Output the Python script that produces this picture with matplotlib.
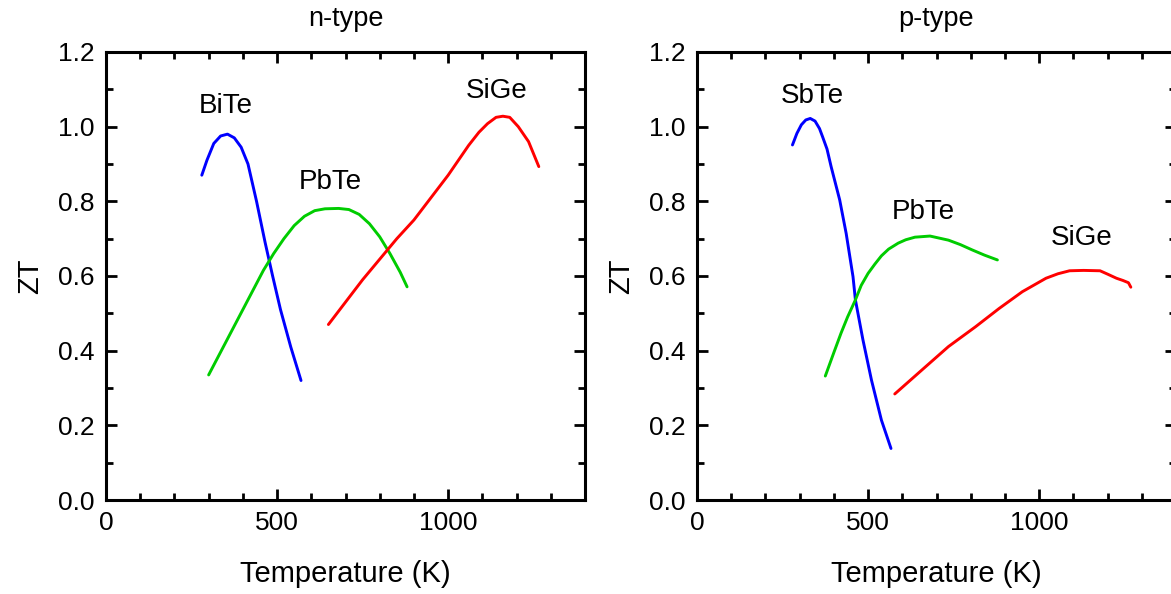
import matplotlib
matplotlib.use("Agg")
import matplotlib.pyplot as plt
from matplotlib.ticker import MultipleLocator, FormatStrFormatter

plt.rcParams['font.family'] = ['Liberation Sans', 'DejaVu Sans']

# n-type materials: temperature (K) and ZT
bite_t = [280, 295, 315, 335, 355, 375, 395, 415, 440, 465, 487, 510, 540, 570]
bite_zt = [0.87, 0.91, 0.955, 0.975, 0.98, 0.97, 0.945, 0.90, 0.80, 0.69, 0.60, 0.51, 0.41, 0.32]

pbte_n_t = [300, 340, 380, 420, 460, 490, 520, 550, 580, 610, 640, 680, 710, 740, 770, 800, 830,
            860, 880]
pbte_n_zt = [0.335, 0.405, 0.475, 0.545, 0.615, 0.66, 0.70, 0.735, 0.76, 0.775, 0.78, 0.781, 0.778,
             0.765, 0.74, 0.705, 0.66, 0.61, 0.571]

sige_n_t = [650, 700, 750, 800, 850, 900, 950, 1000, 1030, 1060, 1090, 1115, 1140, 1160, 1180,
            1205, 1235, 1265]
sige_n_zt = [0.47, 0.53, 0.59, 0.645, 0.70, 0.75, 0.81, 0.87, 0.91, 0.95, 0.985, 1.008, 1.025,
             1.028, 1.025, 1.0, 0.96, 0.893]

# p-type materials
sbte_t = [279, 292, 305, 318, 331, 345, 358, 367, 380, 392, 417, 436, 456, 463, 485, 510, 539, 567]
sbte_zt = [0.951, 0.982, 1.005, 1.018, 1.022, 1.015, 0.995, 0.973, 0.94, 0.893, 0.804, 0.714,
           0.598, 0.536, 0.429, 0.321, 0.214, 0.138]

pbte_p_t = [375, 400, 421, 440, 463, 480, 500, 520, 539, 560, 588, 610, 637, 681, 735, 770, 804,
            840, 878]
pbte_p_zt = [0.332, 0.395, 0.447, 0.49, 0.536, 0.575, 0.607, 0.632, 0.654, 0.672, 0.688, 0.697,
             0.704, 0.707, 0.696, 0.684, 0.670, 0.656, 0.643]

sige_p_t = [578, 657, 735, 814, 883, 951, 1020, 1055, 1089, 1130, 1178, 1200, 1226, 1245, 1261,
            1268]
sige_p_zt = [0.284, 0.348, 0.411, 0.464, 0.513, 0.558, 0.594, 0.606, 0.614, 0.615, 0.614, 0.605,
             0.594, 0.588, 0.582, 0.570]

BLUE = '#0000ff'
GREEN = '#00cc00'
RED = '#ff0000'

panels = [
    ("n-type", [(bite_t, bite_zt, BLUE, "BiTe", (351, 1.056)),
                (pbte_n_t, pbte_n_zt, GREEN, "PbTe", (655, 0.852)),
                (sige_n_t, sige_n_zt, RED, "SiGe", (1143, 1.096))]),
    ("p-type", [(sbte_t, sbte_zt, BLUE, "SbTe", (336, 1.082)),
                (pbte_p_t, pbte_p_zt, GREEN, "PbTe", (660, 0.772)),
                (sige_p_t, sige_p_zt, RED, "SiGe", (1124, 0.701))]),
]

fig = plt.figure(figsize=(11.71, 5.94), dpi=100)
rects = [[106 / 1171, 94 / 594, 479 / 1171, 448 / 594],
         [697 / 1171, 94 / 594, 479 / 1171, 448 / 594]]

for rect, (title, curves) in zip(rects, panels):
    ax = fig.add_axes(rect)
    for t, zt, color, name, pos in curves:
        ax.plot(t, zt, color=color, lw=2.1, solid_capstyle='round', solid_joinstyle='round')
        ax.text(pos[0], pos[1], name, fontsize=20, ha='center', va='center')
    ax.set_xlim(0, 1400)
    ax.set_ylim(0, 1.2)
    ax.xaxis.set_major_locator(MultipleLocator(500))
    ax.xaxis.set_minor_locator(MultipleLocator(100))
    ax.yaxis.set_major_locator(MultipleLocator(0.2))
    ax.yaxis.set_minor_locator(MultipleLocator(0.1))
    ax.yaxis.set_major_formatter(FormatStrFormatter('%.1f'))
    ax.tick_params(which='both', direction='in', top=True, right=True, width=2, labelsize=19)
    ax.tick_params(which='major', length=8, pad=8)
    ax.tick_params(which='minor', length=5)
    for s in ax.spines.values():
        s.set_linewidth(2.2)
    ax.set_title(title, fontsize=19.5, pad=19)
    ax.set_xlabel("Temperature (K)", fontsize=21, labelpad=18)
    ax.set_ylabel("ZT", fontsize=21, labelpad=10)

fig.savefig("out.png", dpi=100)
